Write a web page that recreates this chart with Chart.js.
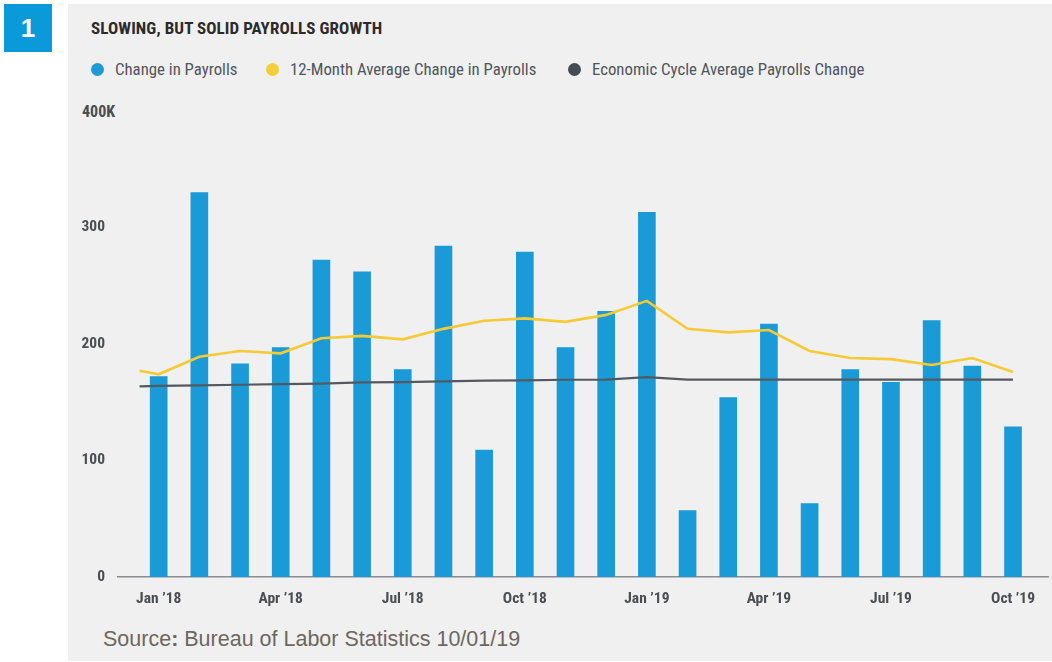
<!DOCTYPE html>
<html>
<head>
<meta charset="utf-8">
<script src="https://cdn.jsdelivr.net/npm/chart.js@4/dist/chart.umd.min.js"></script>
<style>
  html, body { margin: 0; padding: 0; background: #ffffff; width: 1052px; height: 662px; overflow: hidden; }
  #badge { position: absolute; left: 4px; top: 4px; width: 48px; height: 48px; background: #0a9ad9;
    color: #fff; font: bold 26px "Liberation Sans", Arial, sans-serif; text-align: center; line-height: 48px; }
  #panel { position: absolute; left: 68px; top: 4px; width: 984px; height: 657px; background: #f0f0f0; }
  .cond { font-family: "Roboto Condensed", "Liberation Sans Narrow", "DejaVu Sans Condensed", Roboto, sans-serif; }
  #title { position: absolute; left: 91px; top: 18px; font-size: 17px; font-weight: bold; color: #2b2b2b; white-space: nowrap; letter-spacing: 0.1px; }
  .leg { position: absolute; top: 59px; font-size: 16.8px; color: #50555c; white-space: nowrap; }
  .dot { display: inline-block; width: 13px; height: 13px; border-radius: 50%; vertical-align: -1px; margin-right: 11px; }
  #k400 { position: absolute; left: 82px; top: 102px; font-size: 16px; font-weight: bold; color: #4a4d52; }
  #source { position: absolute; left: 103px; top: 627px; font: 21.5px "Liberation Sans", Arial, sans-serif; color: #6d6661; white-space: nowrap; }
  #wrap { position: absolute; left: 68px; top: 0px; width: 984px; height: 662px; }
</style>
</head>
<body>
<div id="badge">1</div>
<div id="panel"></div>
<div id="title" class="cond">SLOWING, BUT SOLID PAYROLLS GROWTH</div>
<div class="leg cond" style="left:91px"><span class="dot" style="background:#1e9ad6"></span>Change in Payrolls</div>
<div class="leg cond" style="left:266px"><span class="dot" style="background:#f5cd38"></span>12-Month Average Change in Payrolls</div>
<div class="leg cond" style="left:568px"><span class="dot" style="background:#474c54"></span>Economic Cycle Average Payrolls Change</div>
<div id="k400" class="cond">400K</div>
<div id="source">Source<b style="font-weight:bold">:</b> Bureau of Labor Statistics 10/01/19</div>
<div id="wrap"><canvas id="c" width="984" height="662"></canvas></div>
<script>
// ---- data ----
const categories = ["Jan ’18","Feb ’18","Mar ’18","Apr ’18","May ’18","Jun ’18","Jul ’18","Aug ’18","Sep ’18","Oct ’18","Nov ’18","Dec ’18",
                    "Jan ’19","Feb ’19","Mar ’19","Apr ’19","May ’19","Jun ’19","Jul ’19","Aug ’19","Sep ’19","Oct ’19"];
const payrollChange = [172, 330, 183, 197, 272, 262, 178, 284, 109, 279, 197, 228, 313, 57, 154, 217, 63, 178, 167, 220, 181, 129];
// 12-month average: lead-in value is drawn half a month before Jan '18
const avgLeadIn = 177;
const avg12Month = [174, 189, 194, 192, 205, 207, 204, 213, 220, 222, 219, 225, 237, 213, 210, 212, 194, 188, 187, 182, 188, 176];
const cycleLeadIn = 163.6;
const cycleAvg = [164, 164.5, 165, 165.5, 166, 167, 167.3, 168, 168.5, 168.7, 169.3, 169.5, 171.5, 169.4, 169.4, 169.4, 169.4, 169.4, 169.4, 169.4, 169.4, 169.4];
const tickEvery = 3;
const yTicks = [0, 100, 200, 300, 400];

const leadX = -0.47;
const barPts = payrollChange.map((v, i) => ({ x: i, y: v }));
const avgPts = [{ x: leadX, y: avgLeadIn }].concat(avg12Month.map((v, i) => ({ x: i, y: v })));
const cycPts = [{ x: leadX, y: cycleLeadIn }].concat(cycleAvg.map((v, i) => ({ x: i, y: v })));

const tickFont = { family: '"Roboto Condensed", "Liberation Sans Narrow", "DejaVu Sans Condensed", Roboto, sans-serif', size: 15.5, weight: 'bold' };

new Chart(document.getElementById('c'), {
  data: {
    datasets: [
      { type: 'line', label: 'Economic Cycle Average Payrolls Change', data: cycPts, borderColor: '#55595f', borderWidth: 2.2,
        pointRadius: 0, tension: 0, order: 1 },
      { type: 'line', label: '12-Month Average Change in Payrolls', data: avgPts, borderColor: '#f5ca34', borderWidth: 2.6,
        pointRadius: 0, tension: 0, order: 2 },
      { type: 'bar', label: 'Change in Payrolls', data: barPts, backgroundColor: '#1a9ad6', barThickness: 17, order: 3 }
    ]
  },
  options: {
    responsive: false,
    animation: false,
    events: [],
    layout: { padding: { left: 0, right: 4, top: 111, bottom: 45 } },
    plugins: { legend: { display: false }, tooltip: { enabled: false } },
    scales: {
      x: {
        type: 'linear', min: -1.0, max: 21.86, offset: false,
        grid: { display: false, drawTicks: false },
        border: { display: true, color: '#8a8c90', width: 1.5 },
        afterBuildTicks: (s) => { s.ticks = categories.map((c, i) => i).filter(i => i % tickEvery === 0).map(i => ({ value: i })); },
        afterFit: (s) => { s.height = 40; },
        ticks: { padding: 13, color: '#4a4d52', font: tickFont, maxRotation: 0, autoSkip: false,
          callback: (v) => categories[v] }
      },
      y: {
        min: 0, max: 400,
        grid: { display: false, drawTicks: false },
        border: { display: false },
        afterBuildTicks: (s) => { s.ticks = yTicks.map(v => ({ value: v })); },
        afterFit: (s) => { s.width = 50; },
        ticks: { padding: 13, color: '#4a4d52', font: tickFont,
          callback: (v) => (v === 400 ? '' : String(v)) }
      }
    }
  }
});
</script>
</body>
</html>
